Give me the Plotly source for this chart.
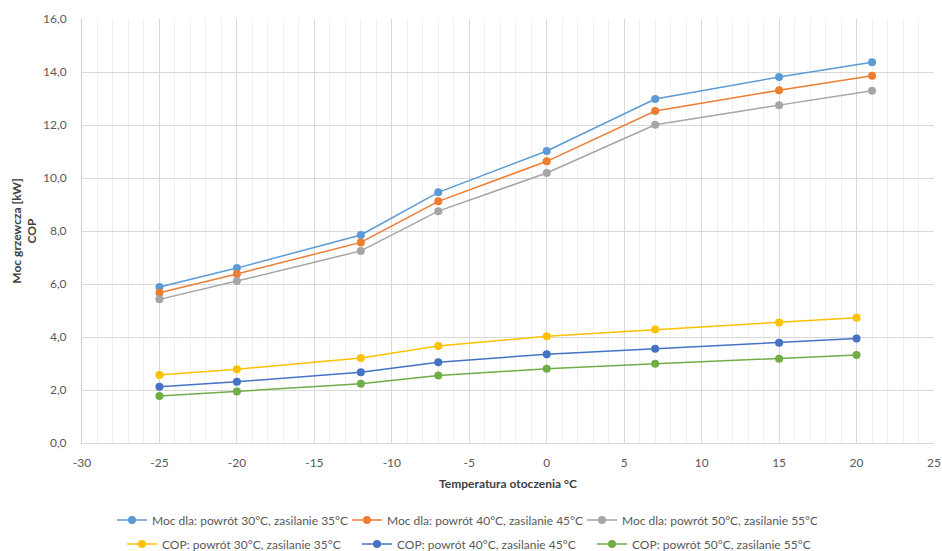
import plotly.graph_objects as go

x_moc = [-25, -20, -12, -7, 0, 7, 15, 21]
x_cop = [-25, -20, -12, -7, 0, 7, 15, 20]

moc_30_35 = [5.89, 6.60, 7.85, 9.46, 11.02, 12.98, 13.81, 14.37]
moc_40_45 = [5.67, 6.38, 7.57, 9.12, 10.63, 12.53, 13.31, 13.86]
moc_50_55 = [5.42, 6.11, 7.25, 8.75, 10.19, 12.01, 12.75, 13.29]
cop_30_35 = [2.57, 2.78, 3.21, 3.66, 4.03, 4.28, 4.55, 4.73]
cop_40_45 = [2.12, 2.31, 2.67, 3.05, 3.35, 3.56, 3.78, 3.94]
cop_50_55 = [1.77, 1.94, 2.24, 2.55, 2.80, 2.99, 3.18, 3.32]

x_tick_vals = [-30, -25, -20, -15, -10, -5, 0, 5, 10, 15, 20, 25]
x_tick_text = ["-30", "-25", "-20", "-15", "-10", "-5", "0", "5", "10", "15", "20", "25"]

series = [
    ("Moc dla: powrót 30°C, zasilanie 35°C", x_moc, moc_30_35, "#5B9BD5", "legend"),
    ("Moc dla: powrót 40°C, zasilanie 45°C", x_moc, moc_40_45, "#ED7D31", "legend"),
    ("Moc dla: powrót 50°C, zasilanie 55°C", x_moc, moc_50_55, "#A5A5A5", "legend"),
    ("COP: powrót 30°C, zasilanie 35°C", x_cop, cop_30_35, "#FFC000", "legend2"),
    ("COP: powrót 40°C, zasilanie 45°C", x_cop, cop_40_45, "#4472C4", "legend2"),
    ("COP: powrót 50°C, zasilanie 55°C", x_cop, cop_50_55, "#70AD47", "legend2"),
]

FONT = "Lato, 'Open Sans', sans-serif"

fig = go.Figure()
for name, xs, ys, col, lg in series:
    fig.add_trace(go.Scatter(
        x=xs, y=ys, name=name, mode="lines+markers",
        line=dict(color=col, width=1.5),
        marker=dict(color=col, size=8),
        legend=lg,
    ))

W, H = 942, 551
legend_common = dict(
    orientation="h", xref="container", yref="container",
    xanchor="left", yanchor="middle",
    entrywidth=190, entrywidthmode="pixels",
    font=dict(size=12, color="#595959"),
    bgcolor="rgba(0,0,0,0)",
)

fig.update_layout(
    width=W, height=H,
    margin=dict(l=82, r=W - 934, t=19, b=H - 443, autoexpand=False),
    paper_bgcolor="white", plot_bgcolor="white",
    separators=", ",
    font=dict(family=FONT, size=12, color="#595959"),
    showlegend=True,
    legend=dict(x=(117 - 5) / W, y=1 - 520 / H, **legend_common),
    legend2=dict(x=(127 - 5) / W, y=1 - 544 / H, **legend_common),
)

fig.update_xaxes(
    range=[-30, 25], tickvals=x_tick_vals, ticktext=x_tick_text,
    showgrid=True, gridcolor="#D9D9D9", gridwidth=1,
    minor=dict(dtick=1, showgrid=True, gridcolor="#F0F0F0", gridwidth=1),
    zeroline=False, showline=True, linecolor="#D9D9D9",
    ticks="", ticklabelstandoff=9, automargin=False, ticklabeloverflow="allow",
    tickfont=dict(size=12, color="#595959"),
    title=dict(text="<b>Temperatura otoczenia °C</b>", font=dict(size=12, color="#404040"), standoff=10),
)
fig.update_yaxes(
    range=[0, 16], dtick=2, tickformat=".1f",
    showgrid=True, gridcolor="#D9D9D9", gridwidth=1,
    zeroline=False, showline=True, linecolor="#C9D3E0",
    ticks="", ticklabelstandoff=12, automargin=False,
    tickfont=dict(size=12, color="#595959"),
    title=dict(text="<b>Moc grzewcza [kW]<br>COP</b>", font=dict(size=12, color="#404040"), standoff=3),
)

fig.write_html(
    "out.html",
    config={"displayModeBar": False},
    post_script="document.body.style.margin='0';document.body.style.overflow='hidden';",
)
